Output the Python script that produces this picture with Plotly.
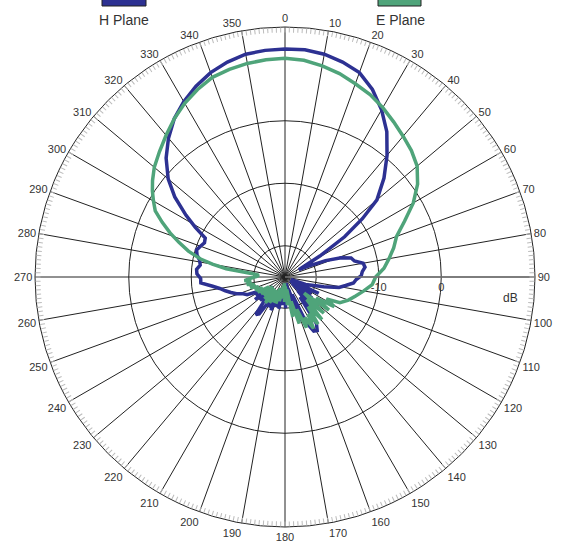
import plotly.graph_objects as go

# Measured antenna pattern (gain in dB vs. azimuth in degrees)
h_angles = [0, 5, 10, 15, 20, 25, 30, 35, 40, 45, 50, 53, 56, 59, 62, 65, 68, 71, 74, 77,
            80, 83, 86, 89, 92, 95, 98, 101, 104, 107,
            110, 113, 116, 119, 122, 125, 128, 131, 134, 137, 140, 143, 146, 149, 152, 155,
            158, 161, 164, 167, 170, 173, 176, 179, 182, 185, 188, 191, 194, 197, 200, 203,
            206, 209, 212, 215, 218, 221, 224, 227, 230, 233, 236, 239, 242, 245, 248, 251,
            254, 257, 260, 263, 266, 269, 272, 275, 278, 281, 284, 287, 290, 293, 296, 299,
            302, 306, 310, 315, 320, 325, 330, 335, 340, 345, 350, 355, 360]
h_gain = [11.5, 11.5, 11.2, 10.6, 9.8, 8.1, 5.9, 3.4, 0.4, -2.6, -5.8, -9.5, -13.5, -18.5,
          -22.5, -21.0, -18.0, -15.5, -14.0, -13.6, -12.3, -12.1, -12.6, -12.8, -13.6, -14.0,
          -15.2, -16.2, -18.6, -20.5,
          -21.5, -24.0, -19.0, -23.0, -20.0, -24.0, -19.5, -23.5, -18.5, -22.0, -17.5, -21.0,
          -16.0, -15.0, -15.2, -17.0, -22.0, -17.5, -23.0, -20.5, -24.0, -21.0, -23.5, -20.0,
          -24.0, -20.5, -23.0, -19.8, -23.0, -20.0, -22.5, -19.2, -22.0, -19.5, -21.0, -17.8,
          -17.4, -20.0, -22.0, -19.5, -22.5, -19.0, -21.5, -19.5, -20.0, -18.3, -17.8, -16.8,
          -16.0, -15.2, -14.4, -13.2, -11.5, -11.5, -10.9, -10.8, -11.3, -11.1, -10.5, -10.2,
          -10.6, -11.0, -10.8, -8.6, -6.3, -3.2, -0.6, 1.9, 4.0, 5.9, 7.4, 8.7, 9.8, 10.6,
          11.2, 11.4, 11.5]

e_angles = [0, 5, 10, 15, 20, 25, 30, 35, 40, 45, 50, 55, 60, 65, 70, 75, 80, 85, 90, 95,
            100, 105, 110, 115, 118, 121, 124, 127, 130, 133, 136, 139, 142, 145, 148, 151,
            154, 157, 160, 163, 166, 169, 172, 175, 178, 181, 184, 187, 190, 193, 196, 199,
            202, 205, 208, 211, 214, 217, 220, 223, 226, 229, 232, 235, 238, 241, 244, 247,
            250, 253, 256, 259, 262, 265, 268, 271, 274, 276, 278, 280, 282, 285, 288, 291,
            294, 297, 300, 303, 306, 310, 315, 320, 325, 330, 335, 340, 345, 350, 355, 360]
e_gain = [10.0, 9.8, 9.3, 8.7, 7.9, 7.2, 6.3, 5.3, 4.4, 3.6, 2.6, 0.9, -1.3, -3.9, -6.0,
          -7.0, -8.1, -9.1, -10.5, -11.0, -12.2, -13.3, -14.2, -15.3, -17.5, -15.8, -19.0,
          -16.2, -21.0, -16.5, -20.0, -16.0, -19.0, -15.8, -18.0, -15.6, -17.8, -16.2, -19.5,
          -17.2, -21.0, -18.5, -23.0, -20.5, -23.5, -21.0, -24.0, -21.5, -23.5, -21.0, -23.0,
          -20.5, -23.0, -20.5, -22.5, -20.2, -22.5, -19.8, -21.5, -20.2, -22.5, -20.5, -22.5,
          -20.3, -22.0, -20.0, -21.0, -19.8, -20.5, -19.2, -20.0, -18.8, -19.5, -18.5, -19.5,
          -20.5, -20.8, -19.6, -15.5, -13.2, -11.2, -9.0, -7.2, -5.3, -3.5, -1.7, -0.7, 0.3,
          1.2, 2.3, 3.4, 4.6, 5.9, 7.1, 8.1, 9.0, 9.4, 9.7, 9.9, 10.0]

angle_ticks = list(range(0, 360, 10))
angle_labels = [str(a) for a in angle_ticks]
minor_ticks = list(range(0, 360, 1))
ring_values = [-20, -10, 0]
ring_labels = ["", "-10", "0"]
db_range = [-25, 15]

H_COLOR = "#2D3192"
E_COLOR = "#4FA47A"
FONT = "Liberation Sans, Arial, sans-serif"

fig = go.Figure()
fig.add_trace(go.Scatterpolar(r=h_gain, theta=h_angles, mode="lines", name="H Plane",
                              line=dict(color=H_COLOR, width=3.5), subplot="polar"))
fig.add_trace(go.Scatterpolar(r=e_gain, theta=e_angles, mode="lines", name="E Plane",
                              line=dict(color=E_COLOR, width=3.5), subplot="polar"))
# empty trace so the overlaid minor-tick subplot is rendered
fig.add_trace(go.Scatterpolar(r=[], theta=[], subplot="polar2", showlegend=False))

dom_x = [35 / 561, 535 / 561]
dom_y = [16 / 543, 516 / 543]

fig.update_layout(
    width=561, height=543,
    margin=dict(l=0, r=0, t=0, b=0),
    paper_bgcolor="white",
    showlegend=False,
    font=dict(family=FONT, color="#333"),
    polar=dict(
        domain=dict(x=dom_x, y=dom_y),
        bgcolor="white",
        angularaxis=dict(
            rotation=90, direction="clockwise",
            tickmode="array", tickvals=angle_ticks, ticktext=angle_labels,
            ticks="", showline=True, linecolor="#222", linewidth=1,
            gridcolor="#222", gridwidth=1,
            tickfont=dict(size=11, color="#333", family=FONT),
        ),
        radialaxis=dict(
            range=db_range, angle=0, side="clockwise",
            tickmode="array", tickvals=ring_values, ticktext=ring_labels,
            ticks="", showline=True, linecolor="#777", linewidth=1.5,
            gridcolor="#222", gridwidth=1,
            tickfont=dict(size=11, color="#333", family=FONT),
        ),
    ),
    polar2=dict(
        domain=dict(x=dom_x, y=dom_y),
        bgcolor="rgba(0,0,0,0)",
        angularaxis=dict(
            rotation=90, direction="clockwise",
            tickmode="array", tickvals=minor_ticks,
            ticks="inside", ticklen=5, tickwidth=1, tickcolor="#bbb",
            showticklabels=False, showgrid=False, showline=False,
        ),
        radialaxis=dict(visible=False, range=db_range),
    ),
)

# legend swatches and labels
fig.add_shape(type="rect", xref="paper", yref="paper",
              x0=102 / 561, x1=146 / 561, y0=537 / 543, y1=1.01,
              fillcolor=H_COLOR, line=dict(color="#222", width=1))
fig.add_shape(type="rect", xref="paper", yref="paper",
              x0=378 / 561, x1=421 / 561, y0=537 / 543, y1=1.01,
              fillcolor=E_COLOR, line=dict(color="#222", width=1))
fig.add_annotation(text="H Plane", xref="paper", yref="paper", x=124 / 561, y=523 / 543,
                   xanchor="center", yanchor="middle",
                   showarrow=False, font=dict(size=14, color="#333", family=FONT))
fig.add_annotation(text="E Plane", xref="paper", yref="paper", x=400 / 561, y=523 / 543,
                   xanchor="center", yanchor="middle",
                   showarrow=False, font=dict(size=14, color="#333", family=FONT))
fig.add_annotation(text="dB", xref="paper", yref="paper", x=510 / 561, y=245 / 543,
                   xanchor="center", yanchor="middle",
                   showarrow=False, font=dict(size=12, color="#333", family=FONT))

fig.write_html("out.html")
